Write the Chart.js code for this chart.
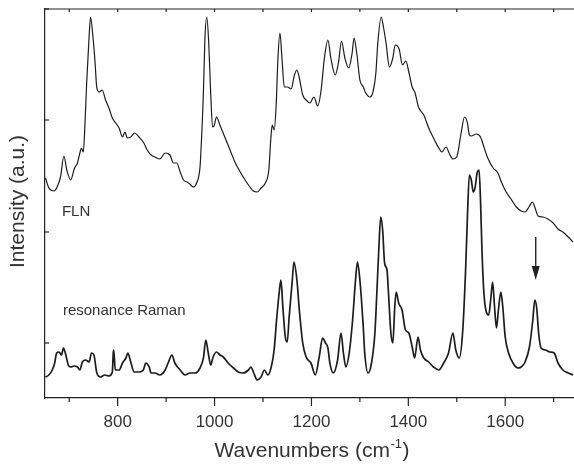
<!DOCTYPE html>
<html><head><meta charset="utf-8">
<script src="https://cdn.jsdelivr.net/npm/chart.js@4"></script>
<style>html,body{margin:0;padding:0;background:#fff;overflow:hidden}#wrap{width:574px;height:464px}</style>
</head><body><div id="wrap"><canvas id="c" width="574" height="464"></canvas></div>
<script>
// FLN spectrum (upper trace)
const flnWavenumbers = [651,658,669,675,682,689,695,703,711,717,722,725,729,732,736,741,744,749,753,757,762,768,775,782,789,796,803,810,815,820,827,835,844,854,861,869,877,887,898,908,915,922,929,936,943,949,956,963,970,973,977,980,984,988,992,996,999,1004,1011,1022,1032,1042,1053,1063,1073,1080,1088,1096,1106,1112,1116,1119,1123,1127,1131,1135,1139,1144,1151,1158,1165,1170,1175,1182,1189,1197,1205,1213,1220,1227,1234,1240,1249,1256,1262,1269,1277,1284,1288,1294,1300,1307,1311,1321,1328,1333,1337,1344,1349,1354,1361,1368,1373,1381,1388,1395,1401,1408,1414,1421,1432,1442,1452,1463,1469,1478,1485,1492,1500,1509,1516,1522,1526,1530,1540,1549,1556,1564,1575,1585,1592,1602,1612,1623,1633,1641,1649,1656,1661,1668,1678,1688,1699,1709,1719,1730,1740];
const flnIntensity = [220,210,207,211,221,242,228,218,230,235,245,250,246,268,315,361,381,361,338,310,306,308,298,290,280,275,270,261,266,260,261,265,261,255,248,243,241,239,245,243,235,235,226,218,216,214,211,215,231,258,305,358,381,355,305,271,272,281,273,260,248,236,226,218,211,207,206,210,216,228,258,273,268,291,341,365,341,311,311,309,323,328,320,303,298,295,301,292,308,341,358,340,323,336,357,340,330,345,360,343,318,311,306,301,308,325,355,381,370,355,331,340,353,349,333,337,326,311,305,291,283,270,260,250,246,251,244,239,241,265,281,275,263,262,264,261,251,240,230,225,216,206,199,191,187,186,191,196,191,182,181,179,175,169,166,161,156];
// Resonance Raman spectrum (lower trace)
const rrWavenumbers = [651,658,665,670,674,679,684,688,693,698,703,710,717,722,727,734,741,746,751,757,765,773,782,789,791,792,795,803,810,817,821,827,834,844,853,858,865,869,877,887,898,905,912,918,929,939,949,960,970,977,982,987,992,997,1004,1011,1018,1028,1039,1049,1059,1070,1075,1081,1088,1096,1103,1110,1117,1123,1128,1134,1137,1141,1146,1150,1154,1160,1164,1170,1175,1182,1189,1199,1208,1216,1223,1229,1234,1238,1245,1254,1261,1266,1271,1278,1285,1291,1295,1300,1307,1310,1317,1324,1331,1335,1339,1343,1347,1351,1356,1359,1364,1368,1372,1375,1380,1387,1394,1401,1408,1413,1420,1425,1432,1442,1452,1463,1473,1483,1492,1498,1505,1512,1518,1522,1526,1530,1534,1538,1542,1546,1549,1552,1556,1561,1566,1570,1574,1578,1582,1586,1591,1595,1600,1607,1616,1626,1633,1641,1650,1657,1661,1665,1669,1674,1683,1692,1701,1709,1719,1730,1740];
const rrIntensity = [21,23,28,35,45,46,43,50,43,33,31,32,31,28,36,38,36,45,43,25,21,23,22,26,46,48,28,28,35,40,45,36,26,26,28,35,31,25,25,23,28,36,43,35,28,23,25,25,30,40,58,45,33,41,46,43,41,35,30,26,25,28,31,25,18,21,28,23,31,48,78,108,118,91,61,56,81,115,136,118,88,55,41,35,23,41,60,55,50,35,25,38,65,45,31,45,78,118,136,118,71,45,25,35,65,105,148,181,168,135,128,105,65,55,91,106,95,88,68,65,51,40,61,48,40,36,31,28,35,45,65,48,40,65,125,181,223,218,206,211,225,228,198,148,105,86,83,98,116,91,70,88,106,91,61,45,35,30,31,36,51,78,98,90,65,50,48,46,45,35,28,25,23];
const xMajorTicks = [800,1000,1200,1400,1600];
const xMinorTicks = [700,900,1100,1300,1500,1700];
const yTicks = [55,166,278,389];
const xAxisTitle = 'Wavenumbers (cm';
const xAxisTitleSup = '-1';
const xAxisTitleEnd = ')';
const yAxisTitle = 'Intensity (a.u.)';
const seriesLabels = [{text:'FLN', x:685, y:186}, {text:'resonance Raman', x:687, y:87}];
const arrowMark = {x:1663, yFrom:161, yTo:118};

const FONT = '"Liberation Sans", Arial, Helvetica, sans-serif';
const INK = '#222';
const TXT = '#333';

function pairs(xs, ys){ return xs.map((x,i)=>({x:x, y:ys[i]})); }

const decor = {
  id:'decor',
  afterDraw(chart){
    const ctx = chart.ctx, xs = chart.scales.x, ys = chart.scales.y, a = chart.chartArea;
    ctx.save();
    ctx.strokeStyle = INK; ctx.lineWidth = 1.2;
    const seg = (x1,y1,x2,y2)=>{ctx.beginPath();ctx.moveTo(x1,y1);ctx.lineTo(x2,y2);ctx.stroke();};
    seg(a.left, a.top, a.right, a.top);
    xMajorTicks.forEach(v=>{const p=xs.getPixelForValue(v); seg(p,a.bottom,p,a.bottom+8); seg(p,a.top,p,a.top+3);});
    xMinorTicks.forEach(v=>{const p=xs.getPixelForValue(v); seg(p,a.bottom,p,a.bottom+4); seg(p,a.top,p,a.top+3);});
    yTicks.forEach(v=>{const p=ys.getPixelForValue(v); seg(a.left,p,a.left+4,p);});
    // series labels
    ctx.fillStyle = TXT; ctx.font = '15px ' + FONT; ctx.textBaseline = 'middle'; ctx.textAlign = 'left';
    seriesLabels.forEach(l=>ctx.fillText(l.text, xs.getPixelForValue(l.x), ys.getPixelForValue(l.y)));
    // arrow
    const ax = xs.getPixelForValue(arrowMark.x), y1 = ys.getPixelForValue(arrowMark.yFrom), y2 = ys.getPixelForValue(arrowMark.yTo);
    ctx.lineWidth = 1.4; seg(ax, y1, ax, y2-10);
    ctx.fillStyle = INK; ctx.beginPath(); ctx.moveTo(ax-4, y2-14); ctx.lineTo(ax+4, y2-14); ctx.lineTo(ax, y2); ctx.closePath(); ctx.fill();
    // x title with superscript
    ctx.fillStyle = TXT; ctx.textBaseline = 'alphabetic'; ctx.textAlign = 'left';
    ctx.font = '21px ' + FONT; const w1 = ctx.measureText(xAxisTitle).width, w3 = ctx.measureText(xAxisTitleEnd).width;
    ctx.font = '13px ' + FONT; const w2 = ctx.measureText(xAxisTitleSup).width;
    const cx = (a.left + 578)/2; let sx = cx - (w1+w2+w3)/2; const base = 457;
    ctx.font = '21px ' + FONT; ctx.fillText(xAxisTitle, sx, base);
    ctx.font = '13px ' + FONT; ctx.fillText(xAxisTitleSup, sx + w1 + 0.5, base - 9);
    ctx.font = '21px ' + FONT; ctx.fillText(xAxisTitleEnd, sx + w1 + w2 + 1, base);
    // y title
    ctx.save(); ctx.translate(18.5, (a.top+a.bottom)/2 - 2); ctx.rotate(-Math.PI/2);
    ctx.textAlign = 'center'; ctx.textBaseline = 'middle'; ctx.font = '21px ' + FONT; ctx.fillText(yAxisTitle, 0, 0);
    ctx.restore();
    ctx.restore();
  }
};

new Chart(document.getElementById('c'), {
  type:'line',
  data:{datasets:[
    {label:'FLN', data:pairs(flnWavenumbers, flnIntensity), borderColor:'#1c1c1c', borderWidth:1.2, pointRadius:0, fill:false, cubicInterpolationMode:'monotone'},
    {label:'resonance Raman', data:pairs(rrWavenumbers, rrIntensity), borderColor:'#1c1c1c', borderWidth:1.7, pointRadius:0, fill:false, cubicInterpolationMode:'monotone'}
  ]},
  options:{
    responsive:false, animation:false, devicePixelRatio:1,
    layout:{padding:{top:9, right:0, left:0, bottom:0}},
    plugins:{legend:{display:false}, tooltip:{enabled:false}},
    scales:{
      x:{type:'linear', min:650, max:1742,
        afterBuildTicks:s=>{s.ticks = xMajorTicks.map(v=>({value:v}));},
        afterFit:s=>{s.height = 66;},
        grid:{display:false, drawTicks:true, tickLength:8},
        border:{display:true, color:INK, width:1.2},
        ticks:{color:TXT, font:{size:17, family:FONT}, padding:6, maxRotation:0, autoSkip:false, callback:v=>String(v)}
      },
      y:{type:'linear', min:0, max:389,
        afterFit:s=>{s.width = 45;},
        grid:{display:false},
        border:{display:true, color:INK, width:1.2},
        ticks:{display:false}
      }
    }
  },
  plugins:[decor]
});
</script></body></html>
